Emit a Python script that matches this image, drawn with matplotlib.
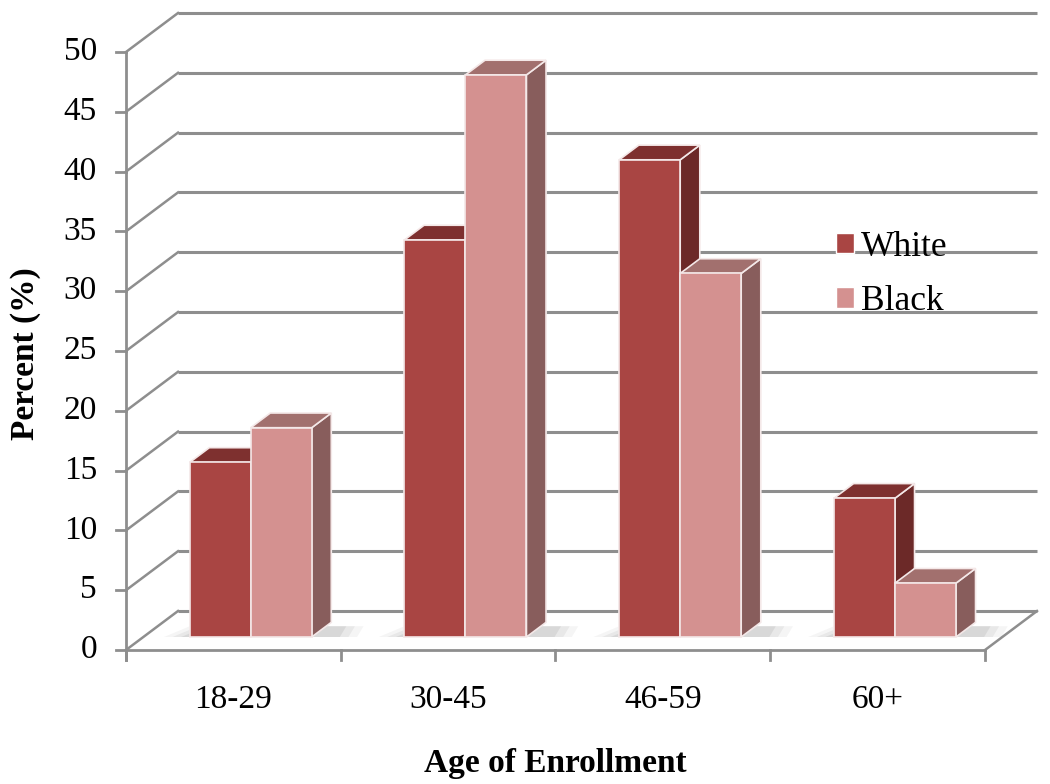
import matplotlib.pyplot as plt
from matplotlib.patches import Polygon, Patch

# data
categories = ['18-29', '30-45', '46-59', '60+']
white = [14.6, 33.2, 39.9, 11.6]
black = [17.5, 47.0, 30.4, 4.5]
series_names = ['White', 'Black']
yticks = list(range(0, 55, 5))

# colours: front, top, side
colors = {
    'White': ('#A94543', '#7E302F', '#6C2928'),
    'Black': ('#D49190', '#A2706E', '#885D5C'),
}

plt.rcParams['font.family'] = ['Liberation Serif', 'DejaVu Serif']

fig = plt.figure(figsize=(10.5, 7.84), dpi=100)
ax = fig.add_axes([0, 0, 1, 1])
ax.set_xlim(-0.5867, 4.3027)
ax.set_ylim(-11.204, 54.348)
ax.axis('off')

# 3d depth offset (full depth of the floor)
DX, DY = 0.2422, 3.26
grid_col = '#8E8E8E'
n = len(categories)

# back wall and left wall gridlines
for v in yticks:
    ax.plot([DX, n + DX], [v + DY, v + DY], color=grid_col, lw=2.2, solid_capstyle='butt', zorder=1)
    ax.plot([0, DX], [v, v + DY], color=grid_col, lw=1.8, zorder=1)
    ax.plot([-0.045, 0], [v, v], color=grid_col, lw=2, zorder=1)
    ax.text(-0.135, v, str(v), ha='right', va='center', fontsize=24)

# floor edges and axes
ax.plot([0, n], [0, 0], color=grid_col, lw=2, zorder=1)
ax.plot([n, n + DX], [0, DY], color=grid_col, lw=1.8, zorder=1)
ax.plot([0, 0], [-0.85, 50], color=grid_col, lw=2, zorder=1)
for i in range(n + 1):
    ax.plot([i, i], [-0.85, 0], color=grid_col, lw=2, zorder=1)

# bars
d0, d1 = 1 / 3, 0.71
dd = d1 - d0
w = 0.284
edge = '#F4E8E8'

for i, cat in enumerate(categories):
    base_x = i + 0.5 + d0 * DX
    base_y = d0 * DY
    # soft floor shadow
    for k, a in enumerate([0.05, 0.07, 0.09]):
        grow = 0.04 * (3 - k)
        sx0 = base_x - w - grow
        sx1 = base_x + w + dd * DX + grow
        shadow = Polygon([(sx0, base_y), (sx1, base_y),
                          (sx1 + 0.03, base_y + 0.9), (sx0 + 0.12, base_y + 0.9)],
                         closed=True, facecolor='#404040', edgecolor='none', alpha=a, zorder=2)
        ax.add_patch(shadow)
    for j, (name, vals) in enumerate(zip(series_names, [white, black])):
        v = vals[i]
        front, top, side = colors[name]
        xl = base_x - w + j * w
        xr = xl + w
        yt = base_y + v
        ax.add_patch(Polygon([(xr, base_y), (xr, yt), (xr + dd * DX, yt + dd * DY), (xr + dd * DX, base_y + dd * DY)],
                             closed=True, facecolor=side, edgecolor=edge, lw=1.2, zorder=3 + j))
        ax.add_patch(Polygon([(xl, yt), (xr, yt), (xr + dd * DX, yt + dd * DY), (xl + dd * DX, yt + dd * DY)],
                             closed=True, facecolor=top, edgecolor=edge, lw=1.2, zorder=3 + j))
        ax.add_patch(Polygon([(xl, base_y), (xr, base_y), (xr, yt), (xl, yt)],
                             closed=True, facecolor=front, edgecolor=edge, lw=1.2, zorder=3 + j))
    ax.text(i + 0.5, -4.18, cat, ha='center', va='center', fontsize=24)

# axis titles
ax.text(2.0, -9.45, 'Age of Enrollment', ha='center', va='center', fontsize=24, fontweight='bold')
ax.text(-0.47, 24.8, 'Percent (%)', ha='center', va='center', rotation=90, fontsize=24, fontweight='bold')

# legend
handles = [Patch(facecolor=colors[s][0], edgecolor='white', lw=1) for s in series_names]
fig.legend(handles, series_names, loc='upper left', bbox_to_anchor=(811 / 1050, 1 - 206 / 784),
           frameon=False, fontsize=25.5, handlelength=0.5, handleheight=0.5,
           handletextpad=0.2, labelspacing=0.6, borderpad=0.2)

fig.savefig('out.png', dpi=100)
